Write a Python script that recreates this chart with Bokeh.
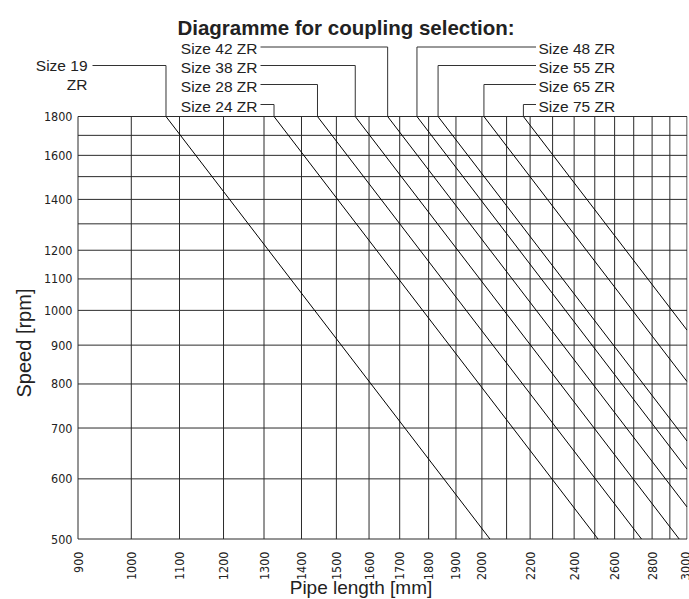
import math
from bokeh.plotting import figure
from bokeh.models import Range1d, FixedTicker, Title
from bokeh.core.properties import value
from bokeh.embed import file_html
from bokeh.resources import INLINE

# ---------------- data ----------------
size_names = ["Size 19", "Size 24 ZR", "Size 28 ZR", "Size 38 ZR", "Size 42 ZR",
              "Size 48 ZR", "Size 55 ZR", "Size 65 ZR", "Size 75 ZR"]
start_speed_rpm = [1800, 1800, 1800, 1800, 1800, 1800, 1800, 1800, 1800]
start_length_mm = [1071, 1326, 1445, 1557, 1660, 1759, 1834, 2008, 2171]
end_length_mm = [2032, 2516, 2742, 2954, 3000, 3000, 3000, 3000, 3000]
end_speed_rpm = [500, 500, 500, 500, 551, 618, 673, 806, 942]

x_tick_values = [900, 1000, 1100, 1200, 1300, 1400, 1500, 1600, 1700, 1800, 1900,
                 2000, 2200, 2400, 2600, 2800, 3000]
x_grid_values = [900, 1000, 1100, 1200, 1300, 1400, 1500, 1600, 1700, 1800, 1900,
                 2000, 2100, 2200, 2300, 2400, 2500, 2600, 2700, 2800, 2900, 3000]
y_tick_values = [500, 600, 700, 800, 900, 1000, 1100, 1200, 1400, 1600, 1800]
y_grid_values = [500, 600, 700, 800, 900, 1000, 1100, 1200, 1300, 1400, 1500,
                 1600, 1700, 1800]
x_min, x_max = 900, 3000
y_min, y_max = 500, 1800

title_text = "Diagramme for coupling selection:"
x_label = "Pipe length [mm]"
y_label = "Speed [rpm]"

# ---------------- layout (pixels) ----------------
PLOT_W = 609.0     # pixel width of the 900..3000 box
PLOT_H = 422.5     # pixel height of the 500..1800 box
PX_X = PLOT_W / math.log(x_max / x_min)
PX_Y = PLOT_H / math.log(y_max / y_min)
BOX_LEFT = 77.5    # page x of x_min
BOX_BOTTOM = 538.5 # page y of y_min


def xd(page_x):
    return x_min * math.exp((page_x - BOX_LEFT) / PX_X)


def yd(page_y):
    return y_min * math.exp((BOX_BOTTOM - page_y) / PX_Y)


FRAME_LEFT_PAGE = 34
FRAME_W = 653
FRAME_TOP_PAGE = 0
FRAME_H = 545

p = figure(
    x_axis_type="log", y_axis_type="log", y_axis_location=None,
    x_range=Range1d(xd(FRAME_LEFT_PAGE), xd(FRAME_LEFT_PAGE + FRAME_W)),
    y_range=Range1d(yd(FRAME_TOP_PAGE + FRAME_H), yd(FRAME_TOP_PAGE)),
    frame_width=FRAME_W, frame_height=FRAME_H,
    min_border_left=FRAME_LEFT_PAGE, min_border_right=2, min_border_top=0,
    min_border_bottom=40,
    toolbar_location=None, output_backend="svg", title=None,
)
p.outline_line_color = None
p.background_fill_color = "white"
p.border_fill_color = "white"
p.grid.visible = False

GRID_COLOR = "#2b2b2b"
TEXT_COLOR = "#222222"
FONT = "Liberation Sans"
TICK_FONT = "DejaVu Sans Condensed"
TICK_SIZE = "12.5px"

# grid and box
p.segment(x0=x_grid_values, y0=[y_min] * len(x_grid_values),
          x1=x_grid_values, y1=[y_max] * len(x_grid_values),
          line_color=GRID_COLOR, line_width=1)
p.segment(x0=[x_min] * len(y_grid_values), y0=y_grid_values,
          x1=[x_max] * len(y_grid_values), y1=y_grid_values,
          line_color=GRID_COLOR, line_width=1)

# coupling lines
p.segment(x0=start_length_mm, y0=start_speed_rpm, x1=end_length_mm, y1=end_speed_rpm,
          line_color="black", line_width=1)

# y tick labels
p.text(x=[xd(72)] * len(y_tick_values), y=y_tick_values,
       text=[str(v) for v in y_tick_values],
       text_align="right", text_baseline="middle",
       text_font=value(TICK_FONT), text_font_size=TICK_SIZE, text_color=TEXT_COLOR)

# title
p.text(x=[xd(345.5)], y=[yd(27)], text=[title_text], text_align="center",
       text_baseline="alphabetic", text_font=value(FONT), text_font_size="20.5px",
       text_font_style="bold", text_color=TEXT_COLOR)

# connectors and size labels
row_y = [46.5, 65, 84, 104]
label_row = [1, 3, 2, 1, 0, 0, 1, 2, 3]
label_side = ["far", "left", "left", "left", "left", "right", "right", "right", "right"]
conn_xs, conn_ys = [], []
lx, ly, ltxt = [], [], []
rx, ry, rtxt = [], [], []
for name, L, row, side in zip(size_names, start_length_mm, label_row, label_side):
    yr = yd(row_y[row])
    if side == "far":
        lx += [xd(87), xd(87)]
        ly += [yd(64.5), yd(84)]
        ltxt += [name, "ZR"]
        conn_xs.append([xd(92), L, L])
        conn_ys.append([yr, yr, y_max])
    elif side == "left":
        lx.append(xd(257))
        ly.append(yd(row_y[row] + 1.5))
        ltxt.append(name)
        conn_xs.append([xd(260), L, L])
        conn_ys.append([yr, yr, y_max])
    else:
        rx.append(xd(538))
        ry.append(yd(row_y[row] + 1.5))
        rtxt.append(name)
        conn_xs.append([xd(535.5), L, L])
        conn_ys.append([yr, yr, y_max])

p.multi_line(xs=conn_xs, ys=conn_ys, line_color="#333333", line_width=1)
p.text(x=lx, y=ly, text=ltxt, text_align="right", text_baseline="middle",
       text_font=value(FONT), text_font_size="15.5px", text_color=TEXT_COLOR)
p.text(x=rx, y=ry, text=rtxt, text_align="left", text_baseline="middle",
       text_font=value(FONT), text_font_size="15.5px", text_color=TEXT_COLOR)

# x axis
ax = p.xaxis[0]
ax.ticker = FixedTicker(ticks=x_tick_values)
ax.major_label_overrides = {v: str(v) for v in x_tick_values}
ax.major_label_orientation = math.pi / 2
ax.axis_line_color = None
ax.major_tick_line_color = None
ax.minor_tick_line_color = None
ax.major_label_standoff = 0
ax.major_label_text_font = TICK_FONT
ax.major_label_text_font_size = TICK_SIZE
ax.major_label_text_color = TEXT_COLOR
ax.axis_label = x_label
ax.axis_label_standoff = -6
ax.axis_label_text_font = FONT
ax.axis_label_text_font_size = "19px"
ax.axis_label_text_font_style = "normal"
ax.axis_label_text_color = TEXT_COLOR

# y axis label
p.add_layout(Title(text=y_label, align="left", offset=148, standoff=0,
                   text_font=FONT, text_font_size="20px", text_font_style="normal",
                   text_color=TEXT_COLOR), "left")

open("out.html", "w").write(file_html(p, INLINE))
